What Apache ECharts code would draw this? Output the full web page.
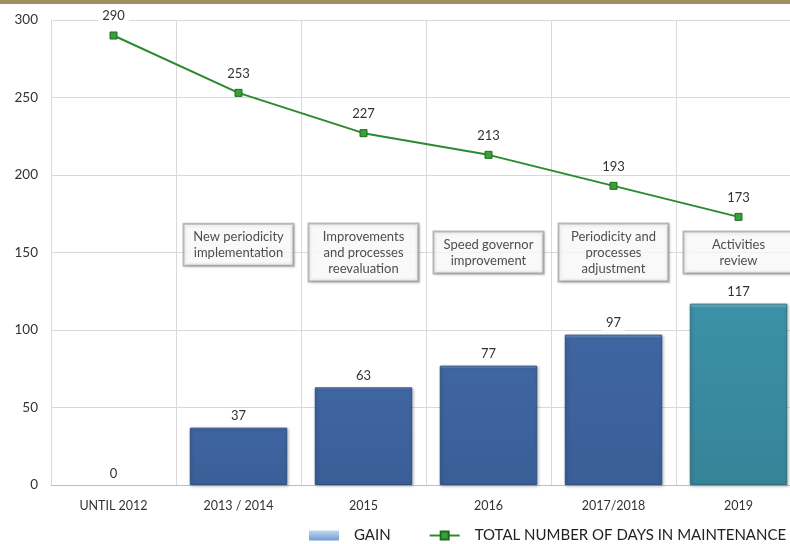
<!DOCTYPE html>
<html>
<head>
<meta charset="utf-8">
<script src="https://cdn.jsdelivr.net/npm/echarts@6/dist/echarts.min.js"></script>
<style>
  html, body { margin: 0; padding: 0; background: #fff; }
  #chart { width: 790px; height: 544px; }
</style>
</head>
<body>
<div id="chart"></div>
<script>
// Categories along the x axis
const periods = ['UNTIL 2012', '2013 / 2014', '2015', '2016', '2017/2018', '2019'];
// Gain in days per period (bars)
const gain = [0, 37, 63, 77, 97, 117];
// Total number of days in maintenance (line)
const totalDays = [290, 253, 227, 213, 193, 173];
// Actions taken per period, with their vertical anchor on the value axis
const actionText = [
  'New periodicity\nimplementation',
  'Improvements\nand processes\nreevaluation',
  'Speed governor\nimprovement',
  'Periodicity and\nprocesses\nadjustment',
  'Activities\nreview'
];
const actionPeriod = [1, 2, 3, 4, 5];
const actionLevel = [155, 150, 150, 150, 150];
const yTicks = { min: 0, max: 300, step: 50 };

const FONT = 'Lato, "Open Sans", sans-serif';

function barGradient(top, mid, edge) {
  return {
    type: 'linear', x: 0, y: 0, x2: 0, y2: 1,
    colorStops: [
      { offset: 0, color: top },
      { offset: 0.025, color: mid },
      { offset: 1, color: edge }
    ]
  };
}

const barData = gain.map((v, i) => {
  const last = i === gain.length - 1;
  return {
    value: v,
    itemStyle: {
      color: last
        ? barGradient('#7cc6d6', '#3b91a6', '#378398')
        : barGradient('#7ea3d6', '#3f65a2', '#3a5e96'),
      borderColor: last ? '#2d7084' : '#2f4f80',
      borderWidth: v === 0 ? 0 : 1
    }
  };
});

const actionData = actionText.map((t, i) => ({
  value: [actionPeriod[i], actionLevel[i]],
  label: { formatter: t }
}));

const chart = echarts.init(document.getElementById('chart'));
chart.setOption({
  animation: false,
  backgroundColor: '#fff',
  textStyle: { fontFamily: FONT },
  graphic: [{
    type: 'rect', left: 0, top: 0,
    shape: { width: 790, height: 4 },
    style: { fill: '#a09060' }
  }],
  grid: {
    left: 51, width: 750, top: 20, bottom: 59,
    containLabel: false, outerBoundsMode: 'none'
  },
  legend: {
    left: 304, top: 523, width: 700, padding: 5,
    itemWidth: 30, itemHeight: 10, itemGap: 38,
    textStyle: { fontSize: 15, color: '#222', fontFamily: FONT, padding: [0, 0, 0, 10] },
    data: [
      { name: 'GAIN', icon: 'rect', itemStyle: { color: {
        type: 'linear', x: 0, y: 0, x2: 0, y2: 1,
        colorStops: [{ offset: 0, color: '#c3d8f0' }, { offset: 1, color: '#6f9cd3' }]
      }, borderWidth: 0 } },
      { name: 'TOTAL NUMBER OF DAYS IN MAINTENANCE' }
    ]
  },
  xAxis: {
    type: 'category',
    data: periods,
    boundaryGap: true,
    axisTick: { show: false },
    axisLine: { show: true, lineStyle: { color: '#bfbfbf', width: 1 } },
    splitLine: { show: true, lineStyle: { color: '#d9d9d9', width: 1 } },
    axisLabel: { color: '#333', fontSize: 12.5, margin: 14, fontFamily: FONT }
  },
  yAxis: {
    type: 'value',
    min: yTicks.min, max: yTicks.max, interval: yTicks.step,
    axisLine: { show: true, lineStyle: { color: '#d9d9d9' } },
    axisTick: { show: false },
    splitLine: { show: true, lineStyle: { color: '#d9d9d9', width: 1 } },
    axisLabel: { color: '#333', fontSize: 13.5, margin: 13, fontFamily: FONT }
  },
  series: [
    {
      name: 'GAIN',
      type: 'bar',
      data: barData,
      barWidth: '78%',
      itemStyle: { shadowColor: 'rgba(0,0,0,0.25)', shadowBlur: 3, shadowOffsetX: 1, shadowOffsetY: 1 },
      label: {
        show: true, position: 'top', distance: 4,
        color: '#333', fontSize: 13, fontFamily: FONT,
        backgroundColor: '#fff', padding: [1, 4]
      },
      z: 2
    },
    {
      name: 'TOTAL NUMBER OF DAYS IN MAINTENANCE',
      type: 'line',
      data: totalDays,
      symbol: 'rect',
      symbolSize: 7,
      lineStyle: { color: '#2b8a2d', width: 2 },
      itemStyle: { color: '#3aa03c', borderColor: '#1f6b21', borderWidth: 1 },
      label: {
        show: true, position: 'top', distance: 8,
        color: '#333', fontSize: 13, fontFamily: FONT,
        backgroundColor: '#fff', padding: [1, 4]
      },
      z: 4
    },
    {
      name: 'actions',
      type: 'scatter',
      data: actionData,
      symbolSize: 0,
      silent: true,
      label: {
        show: true, position: 'inside',
        color: '#222', fontSize: 13, lineHeight: 16, fontFamily: FONT,
        align: 'center', verticalAlign: 'middle',
        width: 92,
        backgroundColor: '#fff',
        borderColor: '#aaaaaa', borderWidth: 2,
        padding: [4, 8],
        shadowColor: 'rgba(0,0,0,0.15)', shadowBlur: 2, shadowOffsetX: 1, shadowOffsetY: 1
      },
      z: 5
    }
  ]
});
</script>
</body>
</html>
